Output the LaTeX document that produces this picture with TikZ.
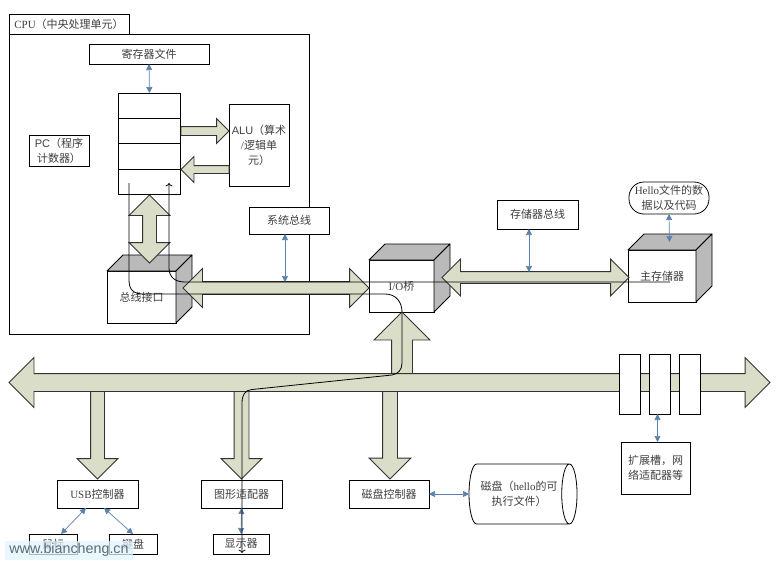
\documentclass[tikz,border=0pt]{standalone}
\usepackage{fontspec}
\setmainfont{Liberation Serif}
\newfontfamily\cjk{Noto Sans CJK SC}
\newfontfamily\arial{Liberation Sans}
\usetikzlibrary{arrows.meta,shapes.arrows,shapes.geometric}
\definecolor{busfill}{HTML}{DADDC8}
\definecolor{linkblue}{HTML}{5B82AE}
\definecolor{marktext}{HTML}{5A6A78}
\tikzset{
    box/.style={draw, fill=white, line width=.8pt, inner sep=0pt, outer sep=0pt, align=center, text=black!75,
        font=\fontsize{11}{15}\selectfont},
    cubeside/.style={draw, fill=black!27, line width=.8pt, line join=round},
    blockarrow/.style={draw=black!80, fill=busfill, line width=.8pt, inner xsep=0pt, outer sep=0pt},
    link/.style={draw=linkblue, line width=.7pt, {Triangle[width=6pt,length=6pt]}-{Triangle[width=6pt,length=6pt]}},
    wire/.style={draw=black, line width=.8pt}
}
\newcommand{\cubesides}[1]{
    \draw[cubeside] (#1.north west) -- ([shift={(16,-16)}]#1.north west) -- ([shift={(16,-16)}]#1.north east) -- (#1.north east) -- cycle;
    \draw[cubeside] (#1.north east) -- ([shift={(16,-16)}]#1.north east) -- ([shift={(16,-16)}]#1.south east) -- (#1.south east) -- cycle;
}
\begin{document}
\begin{tikzpicture}[x=1pt,y=-1pt]
        \useasboundingbox (0,0) rectangle (777,565);

        \node[box, minimum width=300pt, minimum height=300pt] (cpu) at (159,184) {};
        \node[box, minimum width=120pt, minimum height=20pt] (cputab) at (69,24) {CPU{\cjk （中央处理单元）}};
        \node[box, minimum width=120pt, minimum height=20pt] (regfile) at (149,54) {{\cjk 寄存器文件}};
        \node[box, minimum width=62pt, minimum height=25pt] (reg1) at (149.5,105.5) {};
        \node[box, minimum width=62pt, minimum height=25.5pt] (reg2) at (149.5,131) {};
        \node[box, minimum width=62pt, minimum height=25.5pt] (reg3) at (149.5,156.5) {};
        \node[box, minimum width=62pt, minimum height=25pt] (reg4) at (149.5,181.5) {};
        \node[box, minimum width=60pt, minimum height=82pt] (alu) at (259,145) {{\arial ALU}{\cjk （算术}\\/{\cjk 逻辑单}\\{\cjk 元）}};
        \node[box, minimum width=60pt, minimum height=31pt] (pc) at (59,150.5) {{\arial PC}{\cjk （程序}\\{\cjk 计数器）}};

        \node[box, minimum width=69pt, minimum height=52pt] (busif) at (141.5,297) {{\cjk 总线接口}};
        \cubesides{busif}
        \node[box, minimum width=65pt, minimum height=52pt] (iobridge) at (401.5,286) {I/O{\cjk 桥}};
        \cubesides{iobridge}
        \node[box, minimum width=68pt, minimum height=52pt] (mainmem) at (662,276) {{\cjk 主存储器}};
        \cubesides{mainmem}

        \node[single arrow, blockarrow, inner ysep=4pt, single arrow head extend=8pt, minimum height=48pt, anchor=tip] (toalu) at (229,131) {};
        \node[single arrow, blockarrow, inner ysep=3.5pt, single arrow head extend=9pt, minimum height=48pt, anchor=tip, rotate=180] (fromalu) at (181,169.5) {};
        \node[double arrow, blockarrow, inner ysep=6.5pt, double arrow head extend=13.5pt, minimum height=68pt, rotate=90] (regbus) at (149.5,229) {};
        \node[double arrow, blockarrow, inner ysep=6pt, double arrow head extend=13pt, minimum height=186pt] (sysbus) at (276,288) {};
        \node[double arrow, blockarrow, inner ysep=5.5pt, double arrow head extend=12.5pt, minimum height=187pt] (membus) at (535.5,277.5) {};
        \node[single arrow, blockarrow, inner ysep=10pt, single arrow head extend=17.5pt, minimum height=62pt, anchor=tip, rotate=90] (uparrow) at (402,312) {};
        \node[single arrow, blockarrow, inner ysep=6.5pt, single arrow head extend=13.5pt, minimum height=88pt, anchor=tip, rotate=270] (usbarrow) at (97.5,479) {};
        \node[single arrow, blockarrow, inner ysep=7pt, single arrow head extend=13pt, minimum height=88pt, anchor=tip, rotate=270] (gfxarrow) at (241.5,479) {};
        \node[single arrow, blockarrow, inner ysep=7pt, single arrow head extend=13.5pt, minimum height=88pt, anchor=tip, rotate=270] (diskarrow) at (390,479) {};
        \node[double arrow, blockarrow, inner ysep=8.5pt, double arrow head extend=16pt, minimum height=761pt] (iobus) at (389.5,382.5) {};

        \node[box, minimum width=21pt, minimum height=60pt] (slot1) at (629.5,384) {};
        \node[box, minimum width=21pt, minimum height=60pt] (slot2) at (659.5,384) {};
        \node[box, minimum width=21pt, minimum height=60pt] (slot3) at (689.5,384) {};

        \node[box, minimum width=80pt, minimum height=27pt] (syslabel) at (289,220.5) {{\cjk 系统总线}};
        \node[box, minimum width=81pt, minimum height=29pt] (memlabel) at (537.5,214.5) {{\cjk 存储器总线}};
        \node[box, minimum width=80pt, minimum height=32pt, rounded corners=15pt] (hello) at (669,198) {Hello{\cjk 文件的数}\\{\cjk 据以及代码}};
        \node[box, minimum width=69pt, minimum height=52pt] (slotlabel) at (655.5,468) {{\cjk 扩展槽，网}\\{\cjk 络适配器等}};
        \node[box, minimum width=81pt, minimum height=28pt] (usbctl) at (97.5,494) {USB{\cjk 控制器}};
        \node[box, minimum width=81pt, minimum height=28pt] (gfxctl) at (241.5,494) {{\cjk 图形适配器}};
        \node[box, minimum width=80pt, minimum height=28pt] (diskctl) at (389,494) {{\cjk 磁盘控制器}};
        \node[box, minimum width=48pt, minimum height=20pt] (mouse) at (53,544) {{\cjk 鼠标}};
        \node[box, minimum width=48pt, minimum height=20pt] (keyboard) at (133,544) {{\cjk 键盘}};
        \node[box, minimum width=56pt, minimum height=20pt] (display) at (241,544) {{\cjk 显示器}};
        \node[box, cylinder, shape aspect=.6, minimum height=108pt, minimum width=60pt] (disk) at (519,494) {{\cjk 磁盘（}hello{\cjk 的可}\\{\cjk 执行文件）}};

        \draw[link] (regfile) -- (reg1);
        \draw[link] ([xshift=-4pt]syslabel.south) -- ([shift={(9,-6)}]sysbus.center);
        \draw[link] ([xshift=-8.5pt]memlabel.south) -- ([shift={(-6.5,-5.5)}]membus.center);
        \draw[link] (hello.south) -- ([shift={(7.5,-8)}]mainmem.north);
        \draw[link] ([xshift=-2pt]slot2.south) -- ([xshift=2pt]slotlabel.north);
        \draw[link] ([xshift=-11.5pt]usbctl.south) -- ([xshift=8pt]mouse.north);
        \draw[link] ([xshift=6.5pt]usbctl.south) -- (keyboard.north);
        \draw[link] (gfxctl.south) -- (display.north);
        \draw[link] (diskctl) -- (disk);

        \coordinate (wirein) at (129,183);
        \coordinate (wireback) at (169,183);
        \coordinate (memstart) at (670,282);
        \coordinate (dispend) at (242,553);
        \draw[wire, ->] (wirein) -- (129,280) .. controls (129,289) and (133,294) .. (143,294)
            -- (385,294) .. controls (396,294) and (402,302) .. (402,312) -- (402,363)
            .. controls (402,370) and (398,374) .. (392,375) -- (252,389.5)
            .. controls (245,390) and (242,395) .. (242,403) -- (dispend);
        \draw[wire, ->] (memstart) -- (185,282) .. controls (175,282) and (169,277) .. (169,268) -- (wireback);

        \node[fill=cyan!12, fill opacity=.75, text opacity=1, text=marktext, inner sep=0pt, minimum width=128pt, minimum height=19pt,
            font=\arial\fontsize{14.3}{16}\selectfont] (watermark) at (69,550) {www.biancheng.cn};
\end{tikzpicture}
\end{document}
